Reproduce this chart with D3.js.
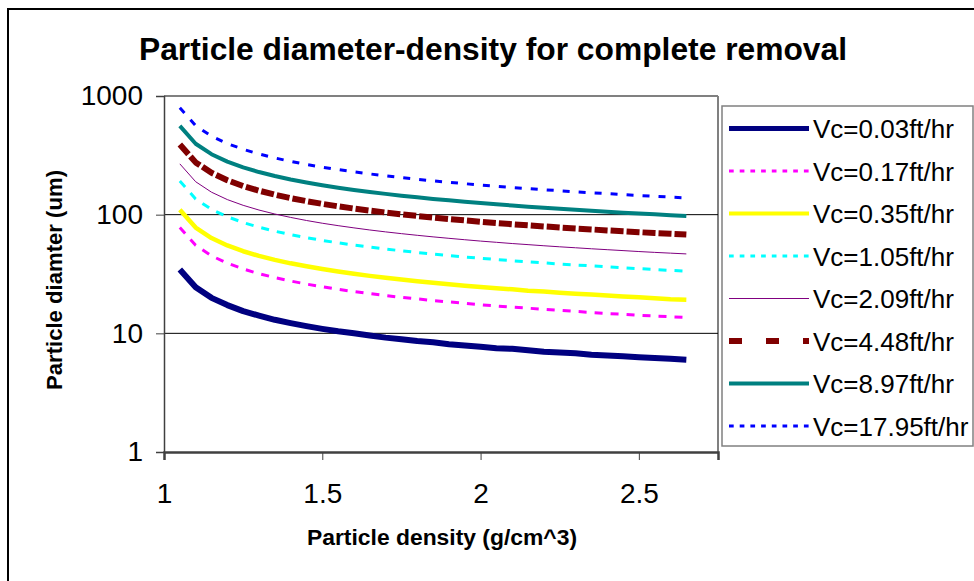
<!DOCTYPE html>
<html>
<head>
<meta charset="utf-8">
<script src="https://cdn.jsdelivr.net/npm/d3@7"></script>
<style>
  html, body { margin: 0; padding: 0; background: #fff; }
  svg { display: block; font-family: "Liberation Sans", Arial, sans-serif; }
</style>
</head>
<body>
<svg id="chart" width="974" height="581"></svg>
<script>
// ---------------- data ----------------
const density = [1.05, 1.10, 1.15, 1.20, 1.25, 1.30, 1.35, 1.40, 1.45, 1.50, 1.55,
                 1.60, 1.65, 1.70, 1.75, 1.80, 1.85, 1.90, 1.95, 2.00, 2.05, 2.10,
                 2.15, 2.20, 2.25, 2.30, 2.35, 2.40, 2.45, 2.50, 2.55, 2.60, 2.65];

const seriesNames = ["Vc=0.03ft/hr", "Vc=0.17ft/hr", "Vc=0.35ft/hr", "Vc=1.05ft/hr",
                     "Vc=2.09ft/hr", "Vc=4.48ft/hr", "Vc=8.97ft/hr", "Vc=17.95ft/hr"];

const vc003 = [34.5, 24.4, 19.9, 17.3, 15.4, 14.1, 13.0, 12.2, 11.5, 10.9, 10.4,
               10.0, 9.6, 9.2, 8.9, 8.6, 8.4, 8.1, 7.9, 7.7, 7.5, 7.4,
               7.2, 7.0, 6.9, 6.8, 6.6, 6.5, 6.4, 6.3, 6.2, 6.1, 6.0];
const vc017 = [78, 55.2, 45.0, 39.0, 34.9, 31.8, 29.5, 27.6, 26.0, 24.7, 23.5,
               22.5, 21.6, 20.8, 20.1, 19.5, 18.9, 18.4, 17.9, 17.4, 17.0, 16.6,
               16.3, 15.9, 15.6, 15.3, 15.0, 14.7, 14.5, 14.2, 14.0, 13.8, 13.6];
const vc035 = [110, 77.8, 63.5, 55.0, 49.2, 44.9, 41.6, 38.9, 36.7, 34.8, 33.2,
               31.8, 30.5, 29.4, 28.4, 27.5, 26.7, 25.9, 25.2, 24.6, 24.0, 23.5,
               22.9, 22.5, 22.0, 21.6, 21.2, 20.8, 20.4, 20.1, 19.8, 19.4, 19.2];
const vc105 = [192, 135.8, 110.9, 96.0, 85.9, 78.4, 72.6, 67.9, 64.0, 60.7, 57.9,
               55.4, 53.3, 51.3, 49.6, 48.0, 46.6, 45.3, 44.0, 42.9, 41.9, 40.9,
               40.0, 39.2, 38.4, 37.7, 37.0, 36.3, 35.7, 35.1, 34.5, 33.9, 33.4];
const vc209 = [268, 189.5, 154.7, 134.0, 119.9, 109.4, 101.3, 94.8, 89.3, 84.7, 80.8,
               77.4, 74.3, 71.6, 69.2, 67.0, 65.0, 63.2, 61.5, 59.9, 58.5, 57.1,
               55.9, 54.7, 53.6, 52.6, 51.6, 50.7, 49.8, 48.9, 48.1, 47.4, 46.7];
const vc448 = [390, 275.8, 225.2, 195.0, 174.4, 159.2, 147.4, 137.9, 130.0, 123.3, 117.6,
               112.6, 108.2, 104.2, 100.7, 97.5, 94.6, 91.9, 89.5, 87.2, 85.1, 83.1,
               81.3, 79.6, 78.0, 76.5, 75.1, 73.7, 72.4, 71.2, 70.0, 69.0, 67.9];
const vc897 = [560, 396.0, 323.3, 280.0, 250.4, 228.6, 211.7, 198.0, 186.7, 177.1, 168.8,
               161.7, 155.3, 149.7, 144.6, 140.0, 135.8, 132.0, 128.5, 125.2, 122.2, 119.4,
               116.8, 114.3, 112.0, 109.8, 107.8, 105.8, 104.0, 102.3, 100.6, 99.0, 97.5];
const vc1795 = [795, 562.1, 459.0, 397.5, 355.5, 324.5, 300.5, 281.1, 265.0, 251.4, 239.7,
                229.5, 220.5, 212.5, 205.3, 198.8, 192.8, 187.4, 182.4, 177.8, 173.5, 169.5,
                165.8, 162.3, 159.0, 155.9, 153.0, 150.3, 147.6, 145.2, 142.8, 140.6, 138.4];

const seriesValues = [vc003, vc017, vc035, vc105, vc209, vc448, vc897, vc1795];

const yTicks = [1, 10, 100, 1000];
const xTicks = [1, 1.5, 2, 2.5];

// ---------------- styles ----------------
const colors   = ["#000080", "#FF00FF", "#FFFF00", "#00FFFF", "#800080", "#800000", "#008080", "#0000FF"];
const widths   = [6, 3, 4.5, 3, 1, 6, 4, 3];
const plotDash = [null, "8 8", null, "8 8", null, "13 3", null, "7 9"];
const legWidth = [5, 3, 4, 3, 1, 6, 4, 3];
const legDash  = [null, "4.7 6", null, "4.7 6", null, "13 24", null, "4.7 6"];

// ---------------- layout ----------------
const svg = d3.select("#chart");
const P = { left: 164, right: 718, top: 96, bottom: 452 };

svg.append("rect").attr("x", 0).attr("y", 0).attr("width", 974).attr("height", 581).attr("fill", "#fff");
// outer chart border
svg.append("rect").attr("x", 8).attr("y", 9).attr("width", 1000).attr("height", 600)
  .attr("fill", "none").attr("stroke", "#000").attr("stroke-width", 2);

const x = d3.scaleLinear().domain([1, 2.75]).range([P.left, P.right]);
const y = d3.scaleLog().domain([1, 1000]).range([P.bottom, P.top]);

// plot area border (top / right)
svg.append("line").attr("x1", P.left).attr("x2", P.right).attr("y1", P.top).attr("y2", P.top)
  .attr("stroke", "#808080").attr("stroke-width", 2);
svg.append("line").attr("x1", P.right).attr("x2", P.right).attr("y1", P.top).attr("y2", P.bottom)
  .attr("stroke", "#808080").attr("stroke-width", 2);

// gridlines
svg.append("g").selectAll("line").data([10, 100]).join("line")
  .attr("x1", P.left).attr("x2", P.right)
  .attr("y1", d => y(d)).attr("y2", d => y(d))
  .attr("stroke", "#000").attr("stroke-width", 1);

// y axis
const yAxis = svg.append("g").attr("transform", `translate(${P.left},0)`)
  .call(d3.axisLeft(y).tickValues(yTicks).tickFormat(d3.format("d")).tickSize(8).tickPadding(13));
yAxis.select(".domain").attr("stroke", "#404040").attr("stroke-width", 1.5);
yAxis.selectAll(".tick line").attr("stroke", "#404040");
yAxis.selectAll("text").attr("font-size", 28).attr("fill", "#000")
  .attr("font-family", "Liberation Sans, Arial, sans-serif");

// x axis
const xAxis = svg.append("g").attr("transform", `translate(0,${P.bottom})`)
  .call(d3.axisBottom(x).tickValues(xTicks).tickFormat(d3.format("")).tickSize(8).tickPadding(23));
xAxis.select(".domain").attr("stroke", "#404040").attr("stroke-width", 2.5);
xAxis.selectAll(".tick line").attr("stroke", "#404040");
xAxis.selectAll("text").attr("font-size", 28).attr("fill", "#000")
  .attr("font-family", "Liberation Sans, Arial, sans-serif");

// series lines
const line = d3.line().x((d, i) => x(density[i])).y(d => y(d));
const clip = svg.append("clipPath").attr("id", "clip").append("rect")
  .attr("x", P.left).attr("y", P.top).attr("width", P.right - P.left).attr("height", P.bottom - P.top);
const gLines = svg.append("g").attr("clip-path", "url(#clip)");
seriesValues.forEach((vals, s) => {
  gLines.append("path").datum(vals)
    .attr("d", line)
    .attr("fill", "none")
    .attr("stroke", colors[s])
    .attr("stroke-width", widths[s])
    .attr("stroke-linejoin", "round")
    .attr("stroke-dasharray", plotDash[s]);
});

// title
svg.append("text").attr("x", 139).attr("y", 60)
  .attr("font-size", 31).attr("font-weight", "bold")
  .attr("textLength", 708).attr("lengthAdjust", "spacingAndGlyphs")
  .text("Particle diameter-density for complete removal");

// axis titles
svg.append("text").attr("x", 307).attr("y", 545)
  .attr("font-size", 22).attr("font-weight", "bold")
  .attr("textLength", 270).attr("lengthAdjust", "spacingAndGlyphs")
  .text("Particle density (g/cm^3)");

svg.append("text").attr("transform", "translate(61.5,390) rotate(-90)")
  .attr("font-size", 22).attr("font-weight", "bold")
  .attr("textLength", 220).attr("lengthAdjust", "spacingAndGlyphs")
  .text("Particle diamter (um)");

// legend
const L = { x: 722, y: 106, w: 251, h: 340, first: 128.5, step: 42.5 };
svg.append("rect").attr("x", L.x).attr("y", L.y).attr("width", L.w).attr("height", L.h)
  .attr("fill", "#fff").attr("stroke", "#808080").attr("stroke-width", 1.5);
const leg = svg.append("g").selectAll("g").data(seriesNames).join("g")
  .attr("transform", (d, i) => `translate(0,${L.first + i * L.step})`);
leg.append("line").attr("x1", 729).attr("x2", 809).attr("y1", 0).attr("y2", 0)
  .attr("stroke", (d, i) => colors[i])
  .attr("stroke-width", (d, i) => legWidth[i])
  .attr("stroke-dasharray", (d, i) => legDash[i]);
leg.append("text").attr("x", 813).attr("y", 9.5)
  .attr("font-size", 26).attr("fill", "#000")
  .text(d => d);
</script>
</body>
</html>
